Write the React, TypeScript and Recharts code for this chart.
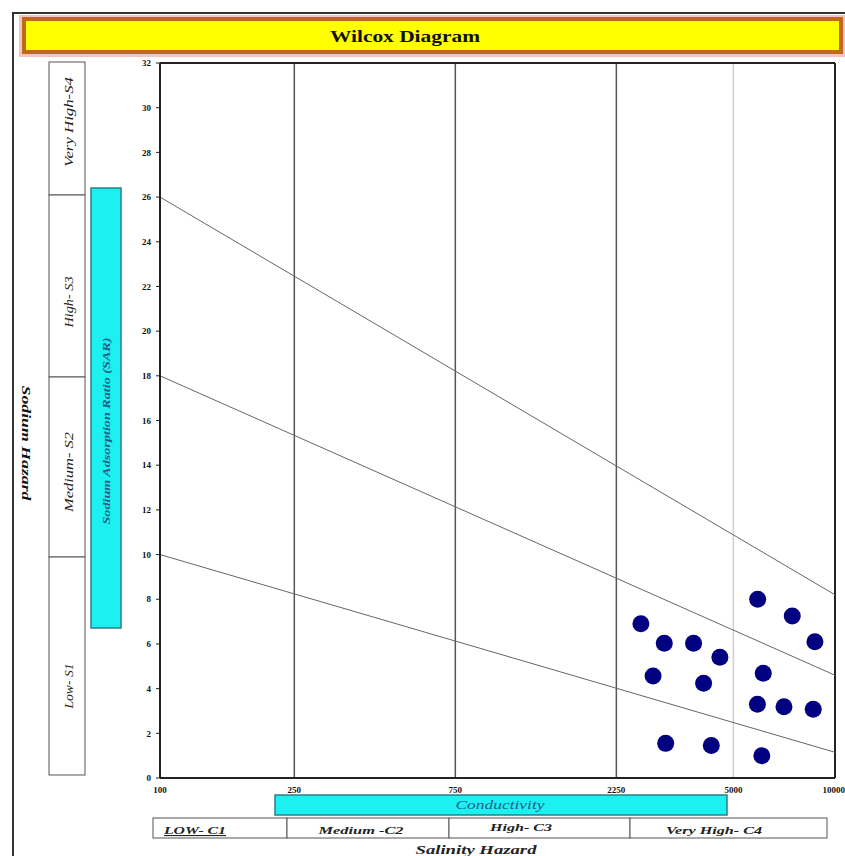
import React from 'react';
import {
  ScatterChart,
  Scatter,
  XAxis,
  YAxis,
  ReferenceLine,
} from 'recharts';

// Conductivity (µS/cm) axis ticks and SAR axis ticks
const conductivityTicks = [100, 250, 750, 2250, 5000, 10000];
const sarTicks = [0, 2, 4, 6, 8, 10, 12, 14, 16, 18, 20, 22, 24, 26, 28, 30, 32];

// sample points
const sampleEC = [5900, 7470, 8720, 2660, 3120, 3810, 4560, 2890, 4080, 6130, 5890, 7060, 8620, 3150, 4300, 6070];
const sampleSAR = [8.0, 7.25, 6.1, 6.9, 6.03, 6.03, 5.4, 4.57, 4.24, 4.69, 3.3, 3.19, 3.08, 1.55, 1.45, 1.0];

// sodium hazard boundaries (SAR at EC = 100 and EC = 10000)
const boundaryEC = [100, 10000];
const boundaryS1S2 = [10, 1.15];
const boundaryS2S3 = [18, 4.6];
const boundaryS3S4 = [26, 8.2];

// salinity class dividers
const salinityDividers = [250, 750, 2250];
const lightDivider = 5000;

const sodiumClasses = ['Very High-S4', 'High- S3', 'Medium- S2', 'Low- S1'];
const salinityClasses = ['LOW- C1', 'Medium -C2', 'High- C3', 'Very High- C4'];

const samples = sampleEC.map((ec, i) => ({ ec, sar: sampleSAR[i] }));

const serif = '"Liberation Serif", "DejaVu Serif", serif';

const Dot = (p: any) => <circle cx={p.cx} cy={p.cy} r={8.5} fill="#000080" />;

function Decorations() {
  const sodiumBoxes = [
    { y0: 62, y1: 195, ty: 122, len: 90 },
    { y0: 195, y1: 377, ty: 302, len: 51 },
    { y0: 377, y1: 557, ty: 472, len: 80 },
    { y0: 557, y1: 775, ty: 686, len: 45 },
  ];
  const salinityBoxes = [
    { x0: 153, x1: 287, tx: 195, len: 62, ty: 834 },
    { x0: 287, x1: 449, tx: 361, len: 85, ty: 834 },
    { x0: 449, x1: 630, tx: 521, len: 62, ty: 831 },
    { x0: 630, x1: 827, tx: 714, len: 96, ty: 834 },
  ];
  return (
    <svg width={845} height={856} style={{ position: 'absolute', left: 0, top: 0 }}>
      <rect x={13} y={13} width={845} height={860} fill="#fff" stroke="#333" strokeWidth={2} />
      {/* title bar */}
      <rect x={19} y={15} width={826} height={42} fill="#f2c4c0" />
      <rect x={22} y={17} width={821} height={37} fill="#c0681c" />
      <rect x={26} y={21} width={813} height={29} fill="#ffff00" />
      <text x={405} y={42} textAnchor="middle" fontFamily={serif} fontWeight="bold" fontSize={17} textLength={150} lengthAdjust="spacingAndGlyphs" fill="#111">
        Wilcox Diagram
      </text>

      {/* sodium hazard */}
      <text transform="translate(26,443) rotate(90)" textAnchor="middle" dominantBaseline="central" fontFamily={serif} fontWeight="bold" fontStyle="italic" fontSize={13} textLength={115} lengthAdjust="spacingAndGlyphs" fill="#111">
        Sodium Hazard
      </text>
      {sodiumBoxes.map((b, i) => (
        <g key={i}>
          <rect x={49} y={b.y0} width={36} height={b.y1 - b.y0} fill="#fff" stroke="#555" strokeWidth={1} />
          <text transform={`translate(69,${b.ty}) rotate(-90)`} textAnchor="middle" dominantBaseline="central" fontFamily={serif} fontStyle="italic" fontSize={12} textLength={b.len} lengthAdjust="spacingAndGlyphs" fill="#222">
            {sodiumClasses[i]}
          </text>
        </g>
      ))}
      <rect x={91} y={188} width={30} height={440} fill="#1df0f0" stroke="#2a7f86" strokeWidth={1.5} />
      <text transform="translate(106,431) rotate(-90)" textAnchor="middle" dominantBaseline="central" fontFamily={serif} fontStyle="italic" fontWeight="bold" fontSize={11} textLength={187} lengthAdjust="spacingAndGlyphs" fill="#1f5e86">
        Sodium Adsorption Ratio (SAR)
      </text>

      {/* salinity hazard */}
      <rect x={275} y={795} width={452} height={20} fill="#1df0f0" stroke="#2a7f86" strokeWidth={1.5} />
      <text x={500} y={809} textAnchor="middle" fontFamily={serif} fontStyle="italic" fontSize={12} textLength={89} lengthAdjust="spacingAndGlyphs" fill="#1f5e86">
        Conductivity
      </text>
      {salinityBoxes.map((b, i) => (
        <g key={i}>
          <rect x={b.x0} y={818} width={b.x1 - b.x0} height={20} fill="#fff" stroke="#555" strokeWidth={1} />
          <text x={b.tx} y={b.ty} textAnchor="middle" fontFamily={serif} fontStyle="italic" fontWeight="bold" fontSize={11} textLength={b.len} lengthAdjust="spacingAndGlyphs" fill="#222" textDecoration={i === 0 ? 'underline' : undefined}>
            {salinityClasses[i]}
          </text>
        </g>
      ))}
      <text x={476} y={854} textAnchor="middle" fontFamily={serif} fontStyle="italic" fontWeight="bold" fontSize={13} textLength={121} lengthAdjust="spacingAndGlyphs" fill="#222">
        Salinity Hazard
      </text>
    </svg>
  );
}

export default function App() {
  const tickStyle = { fill: '#111', fontSize: 9, fontWeight: 'bold' as const, fontFamily: serif };
  return (
    <div style={{ position: 'absolute', left: 0, top: 0, width: 845, height: 856, background: '#fff' }}>
      <Decorations />
      <div style={{ position: 'absolute', left: 0, top: 0 }}>
        <ScatterChart width={845} height={856} margin={{ top: 63, right: 10, bottom: 58, left: 100 }}>
          <XAxis
            type="number"
            dataKey="ec"
            scale="log"
            domain={[100, 10000]}
            ticks={conductivityTicks}
            allowDataOverflow
            height={20}
            tickLine={false}
            tickMargin={3}
            axisLine={{ stroke: '#222', strokeWidth: 2 }}
            tick={tickStyle}
          />
          <YAxis
            type="number"
            dataKey="sar"
            domain={[0, 32]}
            ticks={sarTicks}
            interval={0}
            allowDataOverflow
            width={60}
            tickSize={4}
            tickMargin={5}
            tickLine={{ stroke: '#222' }}
            axisLine={{ stroke: '#222', strokeWidth: 2 }}
            tick={tickStyle}
          />
          {salinityDividers.map((x) => (
            <ReferenceLine key={x} x={x} stroke="#555" strokeWidth={1.5} />
          ))}
          <ReferenceLine x={lightDivider} stroke="#cfcfcf" strokeWidth={1.5} />
          <ReferenceLine x={10000} stroke="#222" strokeWidth={2} />
          <ReferenceLine y={32} stroke="#222" strokeWidth={2} />
          {[boundaryS1S2, boundaryS2S3, boundaryS3S4].map((b, i) => (
            <ReferenceLine
              key={i}
              segment={[
                { x: boundaryEC[0], y: b[0] },
                { x: boundaryEC[1], y: b[1] },
              ]}
              stroke="#666"
              strokeWidth={1}
            />
          ))}
          <Scatter data={samples} shape={Dot} isAnimationActive={false} />
        </ScatterChart>
      </div>
    </div>
  );
}
